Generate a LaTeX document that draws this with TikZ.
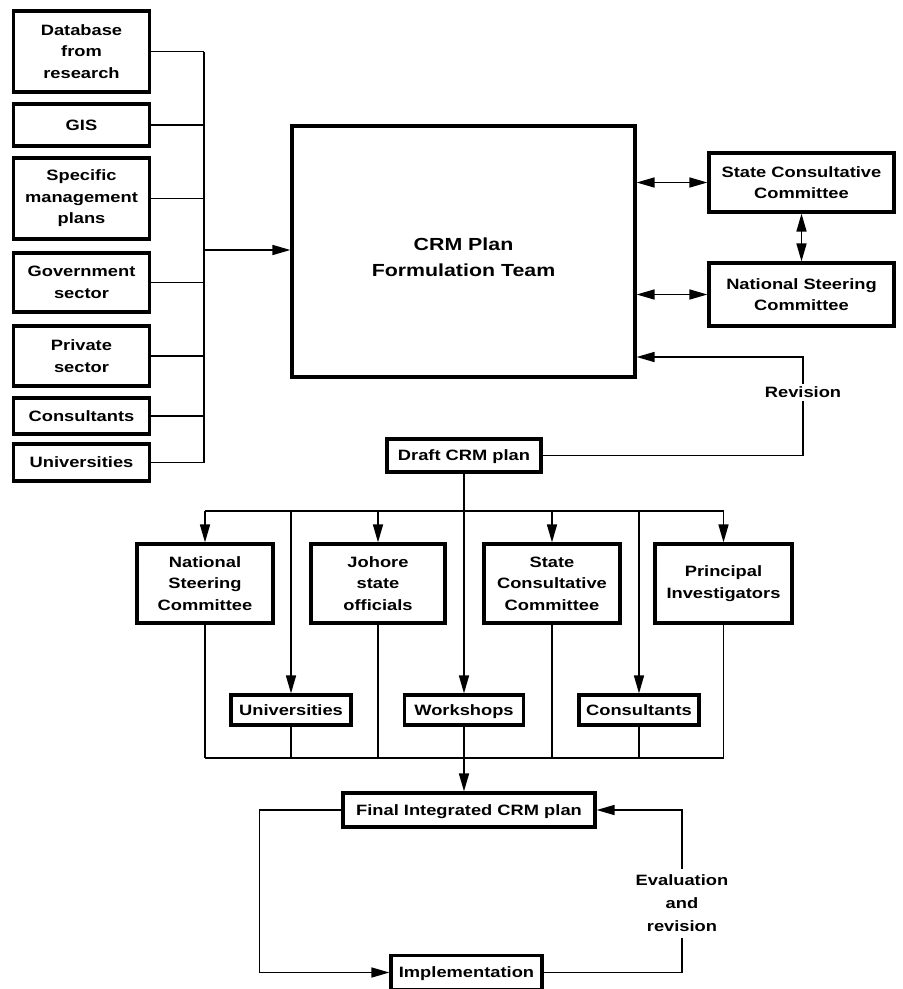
\documentclass[tikz,border=0pt]{standalone}
\usepackage{fontspec}
\setmainfont{Liberation Sans}[FakeStretch=1.22]
\usetikzlibrary{arrows.meta}
\begin{document}
\begin{tikzpicture}[x=1pt,y=-1pt,
  box/.style={draw, line width=3.2pt, inner sep=0pt, align=center,
    font=\fontsize{15}{21.5}\selectfont\bfseries},
  one/.style={text height=10.7pt, text depth=0pt},
  lbl/.style={inner sep=3pt, align=center, font=\fontsize{15}{23}\selectfont\bfseries},
  ln/.style={line width=1.6pt},
  tip/.tip={Triangle[length=18pt,width=10pt]},
  arr/.style={line width=1.6pt, -tip},
  darr/.style={line width=1.6pt, tip-tip}]
\useasboundingbox (0,0) rectangle (903,989);

% left column
\node[box, minimum width=136pt, minimum height=81pt] (db) at (81.5,51.5) {Database\\from\\research};
\node[box, one, minimum width=136pt, minimum height=42pt] (gis) at (81.5,125) {GIS};
\node[box, minimum width=136pt, minimum height=81pt] (smp) at (81.5,198.5) {Specific\\management\\plans};
\node[box, minimum width=136pt, minimum height=59pt] (gov) at (81.5,282.5) {Government\\sector};
\node[box, minimum width=136pt, minimum height=60pt] (priv) at (81.5,356) {Private\\sector};
\node[box, one, minimum width=136pt, minimum height=36pt] (cons) at (81.5,416) {Consultants};
\node[box, one, minimum width=136pt, minimum height=37pt] (univ) at (81.5,462.5) {Universities};

% central team
\node[box, minimum width=343pt, minimum height=251pt] (crm) at (463.5,251.5) {};
\node[lbl, font=\fontsize{17.5}{26}\selectfont\bfseries] (crmtxt) at (463.5,257) {CRM Plan\\Formulation Team};

% right committees
\node[box, minimum width=185pt, minimum height=59pt] (scc) at (801.5,182.5) {State Consultative\\Committee};
\node[box, minimum width=185pt, minimum height=63pt] (nsc) at (801.5,294.5) {National Steering\\Committee};

% left bus
\coordinate (lb) at (204,0);
\foreach \n in {db,gis,smp,gov,priv,cons,univ}
  \draw[ln] (\n.east) -- (\n.east -| lb);
\draw[ln] (db.east -| lb) -- (univ.east -| lb);
\coordinate (inA) at (204,250);
\draw[arr] (inA) -- (inA -| crm.west);

% double arrows
\draw[darr] (scc.west -| crm.east) -- (scc.west);
\draw[darr] (nsc.west -| crm.east) -- (nsc.west);
\draw[darr] (scc.south) -- (nsc.north);

% draft
\node[box, one, minimum width=154pt, minimum height=33pt] (draft) at (464,455.5) {Draft CRM plan};
\coordinate (rvt) at (803,357);
\draw[arr] (draft.east) -| (rvt) -- (rvt -| crm.east);
\node[lbl, fill=white] (rev) at (803,392) {Revision};

% second level
\node[box, minimum width=136pt, minimum height=79pt] (nsc2) at (205,583.5) {National\\Steering\\Committee};
\node[box, minimum width=134pt, minimum height=79pt] (joh) at (378,583.5) {Johore\\state\\officials};
\node[box, minimum width=136pt, minimum height=79pt] (scc2) at (552,583.5) {State\\Consultative\\Committee};
\node[box, minimum width=137pt, minimum height=79pt] (pi) at (723.5,583.5) {Principal\\Investigators};
\node[box, one, minimum width=120pt, minimum height=30pt] (univ2) at (291,710) {Universities};
\node[box, one, minimum width=119pt, minimum height=30pt] (wks) at (464,710) {Workshops};
\node[box, one, minimum width=120pt, minimum height=30pt] (cons2) at (639,710) {Consultants};

\coordinate (b1) at (0,511);
\draw[ln] (nsc2 |- b1) -- (pi |- b1);
\foreach \n in {nsc2,univ2,joh,scc2,cons2,pi}
  \draw[arr] (\n |- b1) -- (\n.north);
\draw[arr] (draft.south) -- (wks.north);

\coordinate (b2) at (0,758);
\foreach \n in {nsc2,univ2,joh,wks,scc2,cons2,pi}
  \draw[ln] (\n.south) -- (\n |- b2);
\draw[ln] (nsc2 |- b2) -- (pi |- b2);

% final and implementation
\node[box, one, minimum width=252pt, minimum height=34pt] (final) at (469,810) {Final Integrated CRM plan};
\node[box, one, minimum width=151pt, minimum height=34pt] (impl) at (466.5,972.5) {Implementation};
\draw[arr] (wks |- b2) -- (wks |- final.north);

\draw[arr] (final.west) -- ++(-82,0) |- (impl.west);
\coordinate (er) at (682,0);
\draw[arr] (impl.east) -| (er |- final.east) -- (final.east);
\node[lbl, fill=white, inner ysep=6pt] (ev) at (682,903) {Evaluation\\and\\revision};
\end{tikzpicture}
\end{document}
